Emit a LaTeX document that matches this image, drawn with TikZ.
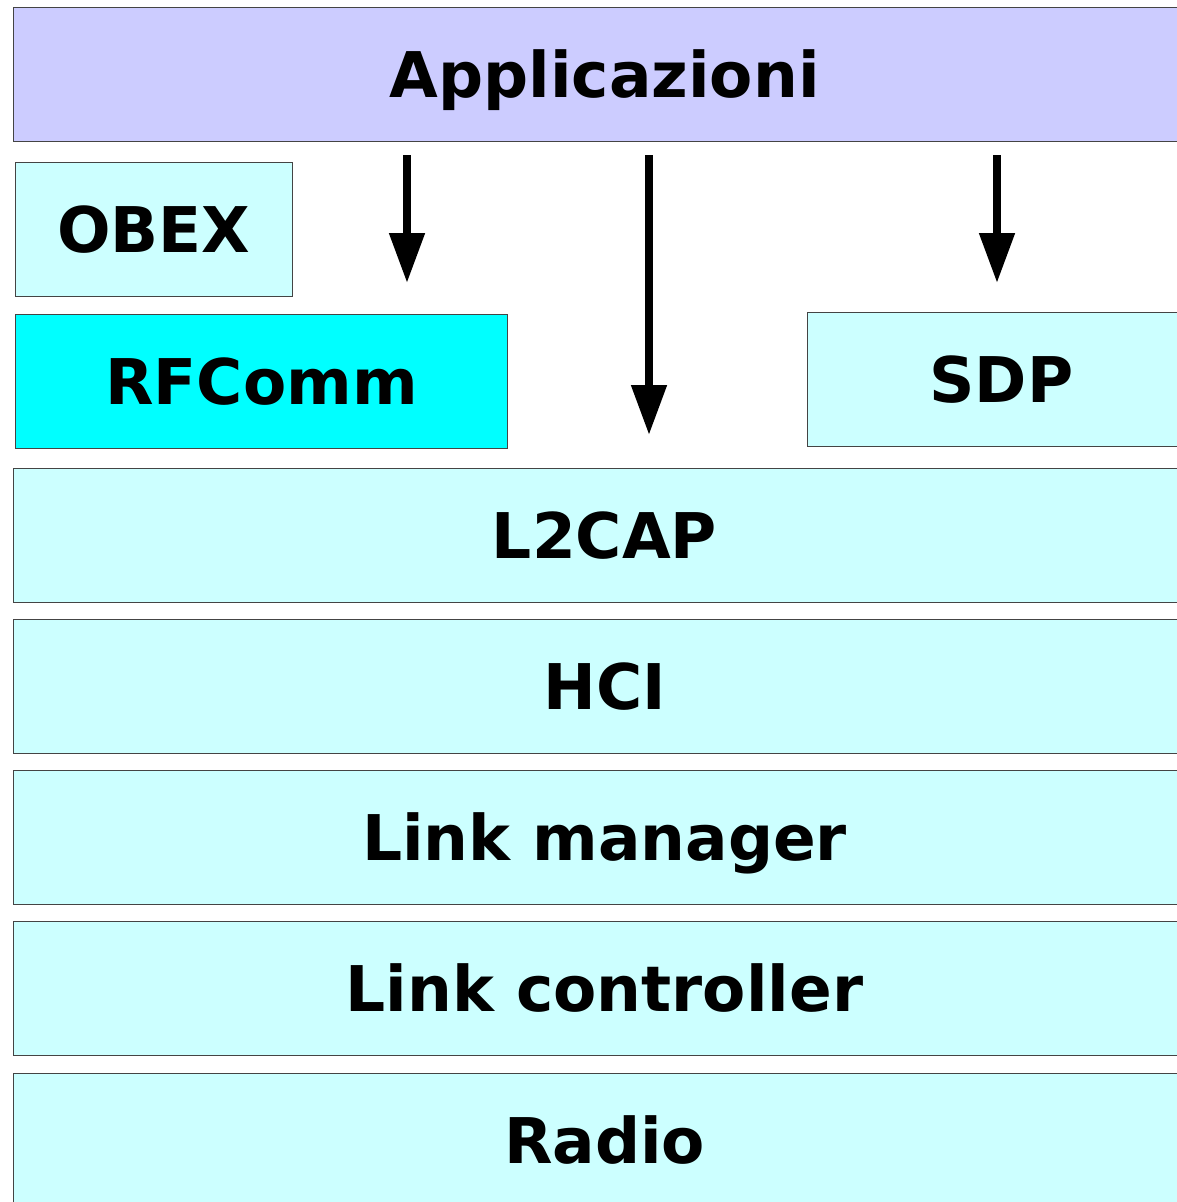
\documentclass[tikz,border=0pt]{standalone}
\usepackage{fontspec}
\setmainfont{DejaVu Sans}
\usetikzlibrary{arrows.meta}
\definecolor{lcyan}{HTML}{CCFFFF}
\definecolor{lav}{HTML}{CCCCFF}
\definecolor{cyanf}{HTML}{00FFFF}
\definecolor{edge}{HTML}{444444}
\tikzset{
  layer/.style={draw=edge, line width=1pt, rectangle, anchor=north west,
    minimum height=134pt, inner sep=0pt, fill=lcyan,
    font=\fontsize{63}{70}\selectfont\bfseries, text height=46pt, text depth=0pt},
  down/.style={line width=8pt, -{Triangle[length=50pt, width=34pt]}}
}
\begin{document}
\begin{tikzpicture}[x=1pt, y=-1pt]
\useasboundingbox (0,0) rectangle (1177,1202);
\clip (0,0) rectangle (1177,1202);
\node[layer, fill=lav, minimum width=1182pt] (app) at (13,7) {Applicazioni};
\node[layer, minimum width=277pt] (obex) at (15,162) {OBEX};
\node[layer, fill=cyanf, minimum width=492pt] (rfc) at (15,314) {RFComm};
\node[layer, minimum width=388pt] (sdp) at (807,312) {SDP};
\node[layer, minimum width=1182pt] (l2) at (13,468) {L2CAP};
\node[layer, minimum width=1182pt] (hci) at (13,619) {HCI};
\node[layer, minimum width=1182pt] (lm) at (13,770) {Link manager};
\node[layer, minimum width=1182pt] (lc) at (13,921) {Link controller};
\node[layer, minimum width=1182pt] (radio) at (13,1073) {Radio};
\coordinate (a1s) at (407,155);
\coordinate (a1e) at (407,283);
\coordinate (a2s) at (649,155);
\coordinate (a2e) at (649,435);
\coordinate (a3s) at (997,155);
\coordinate (a3e) at (997,283);
\draw[down] (a1s) -- (a1e);
\draw[down] (a2s) -- (a2e);
\draw[down] (a3s) -- (a3e);
\end{tikzpicture}
\end{document}
